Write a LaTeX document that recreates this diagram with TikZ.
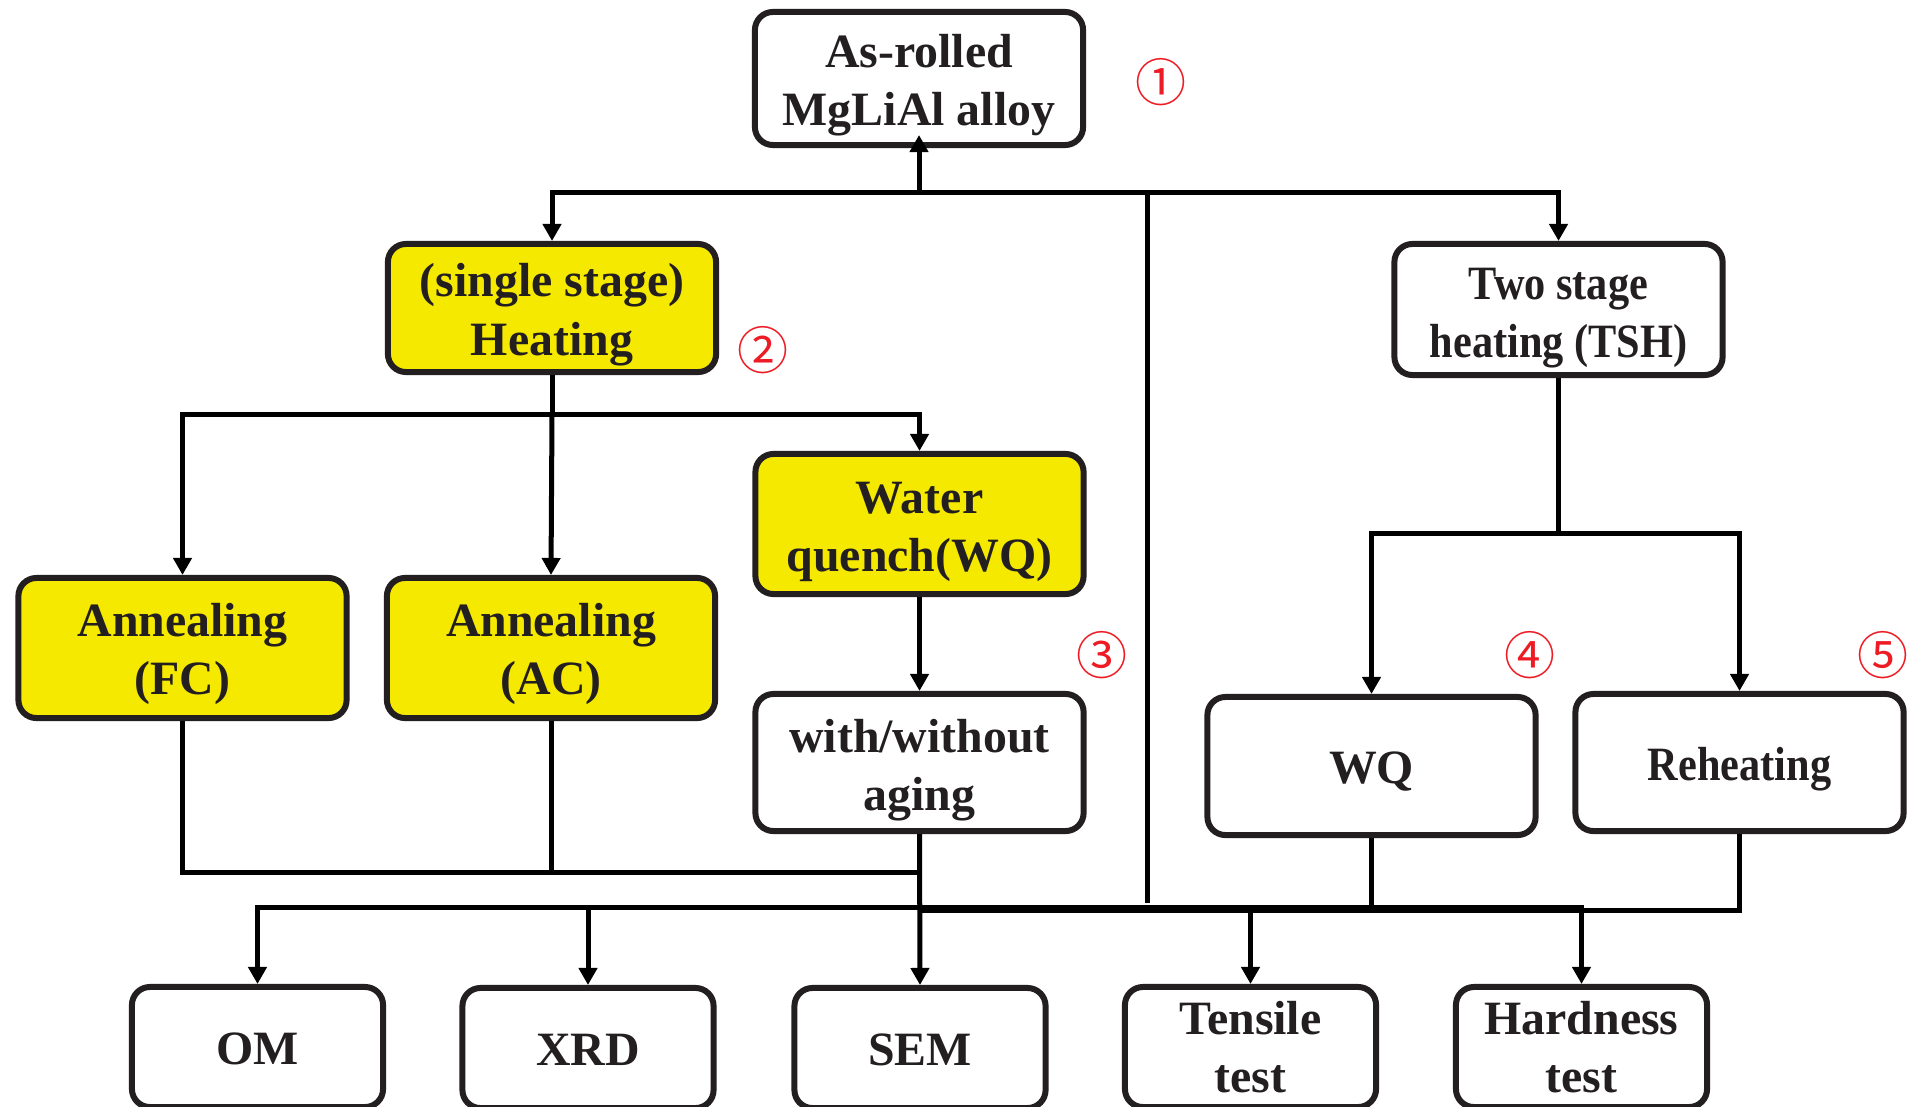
\documentclass[tikz,border=0pt]{standalone}
\usepackage{fontspec}
\setmainfont{Liberation Serif}
\newfontfamily\cjkfont{Noto Sans CJK SC}
\usetikzlibrary{arrows.meta}
\definecolor{boxyellow}{RGB}{245,233,0}
\definecolor{ink}{RGB}{35,31,32}
\definecolor{numred}{RGB}{237,28,36}
\newcommand\tx[3][1]{\raisebox{-#2}[\height][\depth]{\scalebox{#1}[1]{\begin{tabular}{@{}c@{}}#3\end{tabular}}}}
\tikzset{
 box/.style={draw=ink, line width=0.06cm, rounded corners=0.18cm, inner sep=0pt, minimum width=3.28cm, text=ink, font=\bfseries\fontsize{13.6}{16.6}\selectfont},
 yel/.style={box, fill=boxyellow},
 testbox/.style={box, minimum width=2.51cm, minimum height=1.20cm},
 conn/.style={line width=0.05cm, black},
 arr/.style={conn, -{Triangle[width=0.18cm,length=0.17cm]}},
 num/.style={text=numred, font=\cjkfont\fontsize{14.5}{14.5}\selectfont, inner sep=0pt}
}
\begin{document}
\begin{tikzpicture}[x=0.01cm,y=-0.01cm]
\useasboundingbox (0,0) rectangle (1910,1106);
\clip (0,0) rectangle (1910,1106);
\fill[white] (0,0) rectangle (1910,1106);

% nodes
\node[box, minimum height=1.33cm] (top) at (919,78.5) {\tx{0.065cm}{As-rolled\\MgLiAl alloy}};
\node[yel, minimum height=1.28cm] (heat) at (552,308) {\tx{0.065cm}{(single stage)\\Heating}};
\node[box, minimum height=1.31cm] (tsh) at (1558.5,309.5) {\tx[0.885]{0.075cm}{Two stage\\heating (TSH)}};
\node[yel, minimum height=1.40cm] (fc) at (182.5,648) {\tx{0.06cm}{Annealing\\(FC)}};
\node[yel, minimum height=1.40cm] (ac) at (551,648) {\tx{0.06cm}{Annealing\\(AC)}};
\node[yel, minimum height=1.40cm] (wqa) at (919.5,524) {\tx{0.065cm}{Water\\quench(WQ)}};
\node[box, minimum height=1.37cm] (aging) at (919.5,762.5) {\tx{0.07cm}{with/without\\aging}};
\node[box, minimum height=1.38cm] (wqb) at (1371.5,766) {\tx{0.06cm}{WQ}};
\node[box, minimum height=1.37cm] (reh) at (1739.5,762.5) {\tx[0.885]{0.06cm}{Reheating}};

\node[testbox] (om) at (257.5,1047) {\tx{0.06cm}{OM}};
\node[testbox] (xrd) at (588,1048) {\tx{0.055cm}{XRD}};
\node[testbox] (sem) at (920,1048) {\tx{0.055cm}{SEM}};
\node[testbox] (ten) at (1250.5,1047) {\tx{0.05cm}{Tensile\\test}};
\node[testbox] (hard) at (1581.5,1047) {\tx{0.05cm}{Hardness\\test}};

% circled numbers
\node[num] (n1) at (1161,82) {①};
\node[num] (n2) at (763,350) {②};
\node[num] (n3) at (1102,655) {③};
\node[num] (n4) at (1530,655) {④};
\node[num] (n5) at (1883,655) {⑤};

% coordinates
\coordinate (bus1) at (919,192.5);
\coordinate (vtop) at (1147.5,192.5);
\coordinate (vend) at (1147.5,903);
\coordinate (hb) at (552,414);
\coordinate (tb) at (1558.5,533.5);
\coordinate (c1) at (920,872);
\coordinate (b1) at (920,907);
\coordinate (b2) at (920,910);

% connectors
\draw[arr] (bus1) -- ([yshift=0.13cm]top.south);
\draw[arr] (bus1) -| (heat.north);
\draw[arr] (bus1) -| (tsh.north);
\draw[conn] (vtop) -- (vend);

\draw[conn] (heat.south) -- (hb);
\draw[arr] (hb) -| (fc.north);
\draw[arr] (hb) -- (ac.north);
\draw[arr] (hb) -| (wqa.north);
\draw[arr] (wqa.south) -- (aging.north);

\draw[conn] (tsh.south) -- (tb);
\draw[arr] (tb) -| (wqb.north);
\draw[arr] (tb) -| (reh.north);

\draw[conn] (fc.south) |- (c1);
\draw[conn] (ac.south) -- (ac.south |- c1);
\draw[arr] (aging.south) -- (sem.north);

\draw[arr] (b1) -| (om.north);
\draw[arr] (b1) -| (xrd.north);
\draw[arr] (b1) -| (ten.north);
\draw[arr] (b1) -| (hard.north);
\draw[conn] (wqb.south) -- (wqb.south |- b2);
\draw[conn] (reh.south) |- (b2);
\end{tikzpicture}
\end{document}
